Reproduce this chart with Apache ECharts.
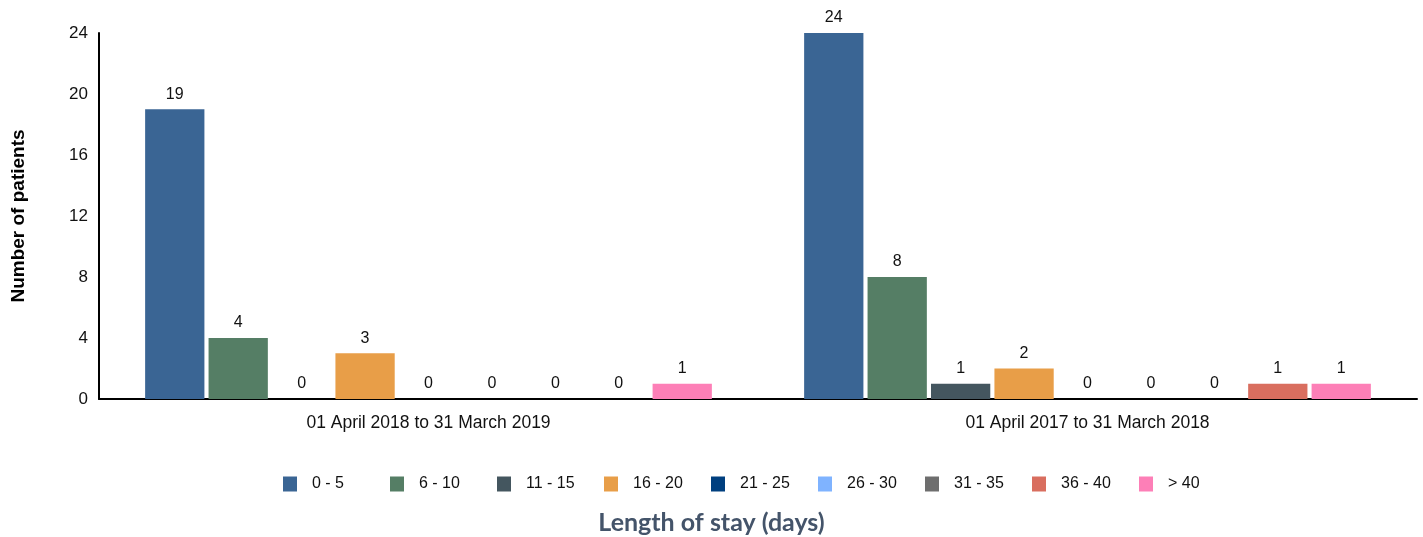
<!DOCTYPE html>
<html>
<head>
<meta charset="utf-8">
<script src="https://cdn.jsdelivr.net/npm/echarts@6/dist/echarts.min.js"></script>
<style>
html,body{margin:0;padding:0;background:#fff;}
#c{width:1423px;height:537px;}
</style>
</head>
<body>
<div id="c"></div>
<script>
const categories = ['01 April 2018 to 31 March 2019', '01 April 2017 to 31 March 2018'];
const seriesNames = ['0 - 5', '6 - 10', '11 - 15', '16 - 20', '21 - 25', '26 - 30', '31 - 35', '36 - 40', '> 40'];
const s0_5 = [19, 24];
const s6_10 = [4, 8];
const s11_15 = [0, 1];
const s16_20 = [3, 2];
const s21_25 = [0, 0];
const s26_30 = [0, 0];
const s31_35 = [0, 0];
const s36_40 = [0, 1];
const sOver40 = [1, 1];
const seriesValues = [s0_5, s6_10, s11_15, s16_20, s21_25, s26_30, s31_35, s36_40, sOver40];
const colors = ['#3a6594', '#557e65', '#44565f', '#e89e48', '#003f7f', '#7fb3ff', '#6e6e6e', '#d96e5f', '#fd7fb7'];
const yMax = 24, yInterval = 4;

const font = 'Liberation Sans, Arial, sans-serif';
const legendLeft = 283, legendStep = 107;
const chart = echarts.init(document.getElementById('c'));
chart.setOption({
  animation: false,
  color: colors,
  title: {
    text: 'Length of stay (days)',
    left: 'center',
    top: 505,
    textStyle: { fontFamily: 'Lato, Open Sans, sans-serif', fontSize: 25, fontWeight: 'bold', color: '#44546a' }
  },
  legend: seriesNames.map((n, i) => ({
    data: [n],
    left: legendLeft + legendStep * i,
    top: 476,
    itemWidth: 14,
    itemHeight: 15,
    itemGap: 0,
    icon: 'rect',
    padding: 0,
    formatter: name => '{t|' + name + '}',
    textStyle: {
      fontFamily: font, fontSize: 16, color: '#111',
      rich: { t: { padding: [0, 0, 0, 10], fontFamily: font, fontSize: 16, color: '#111' } }
    }
  })),
  grid: { left: 99, right: 6, top: 33, bottom: 138 },
  xAxis: {
    type: 'category',
    data: categories,
    axisLine: { lineStyle: { color: '#000', width: 2 } },
    axisTick: { show: false },
    axisLabel: { fontFamily: font, fontSize: 17.5, color: '#111', margin: 15 }
  },
  yAxis: {
    type: 'value',
    min: 0,
    max: yMax,
    interval: yInterval,
    name: 'Number of patients',
    nameLocation: 'middle',
    nameGap: 71,
    nameTextStyle: { fontFamily: font, fontSize: 19, fontWeight: 'bold', color: '#000' },
    axisLine: { show: true, lineStyle: { color: '#000', width: 2 } },
    axisTick: { show: false },
    splitLine: { show: false },
    axisLabel: { fontFamily: font, fontSize: 17, color: '#111', margin: 11 }
  },
  series: seriesNames.map((n, i) => ({
    name: n,
    type: 'bar',
    data: seriesValues[i],
    barCategoryGap: '14%',
    barGap: '7%',
    label: { show: true, position: 'top', distance: 7, fontFamily: font, fontSize: 16, color: '#111' }
  }))
});
</script>
</body>
</html>
